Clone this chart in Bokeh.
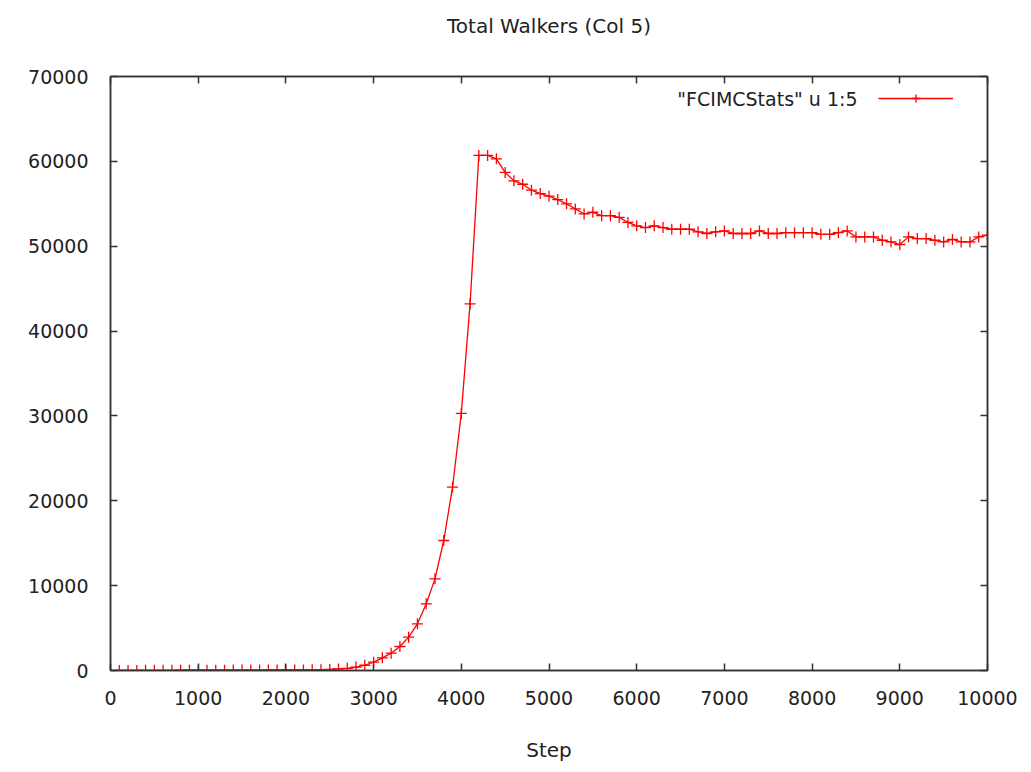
from bokeh.plotting import figure
from bokeh.models import (FixedTicker, LinearAxis, Range1d, Label, Legend, LegendItem,
                          NumeralTickFormatter)
from bokeh.embed import file_html
from bokeh.resources import INLINE

# ---- data ----
steps = [100, 200, 300, 400, 500, 600, 700, 800, 900, 1000,
         1100, 1200, 1300, 1400, 1500, 1600, 1700, 1800, 1900, 2000,
         2100, 2200, 2300, 2400, 2500, 2600, 2700, 2800, 2900, 3000,
         3100, 3200, 3300, 3400, 3500, 3600, 3700, 3800, 3900, 4000,
         4100, 4200, 4300, 4400, 4500, 4600, 4700, 4800, 4900, 5000,
         5100, 5200, 5300, 5400, 5500, 5600, 5700, 5800, 5900, 6000,
         6100, 6200, 6300, 6400, 6500, 6600, 6700, 6800, 6900, 7000,
         7100, 7200, 7300, 7400, 7500, 7600, 7700, 7800, 7900, 8000,
         8100, 8200, 8300, 8400, 8500, 8600, 8700, 8800, 8900, 9000,
         9100, 9200, 9300, 9400, 9500, 9600, 9700, 9800, 9900, 10000]
walkers = [10, 12, 14, 16, 19, 22, 25, 28, 31, 34,
           37, 40, 43, 46, 49, 52, 55, 58, 61, 64,
           67, 70, 75, 90, 130, 180, 260, 400, 620, 980,
           1490, 2040, 2830, 3930, 5500, 7860, 10800, 15320, 21600, 30300,
           43200, 60700, 60700, 60300, 58700, 57700, 57300, 56600, 56200, 55900,
           55500, 55000, 54400, 53800, 54000, 53600, 53600, 53400, 52800, 52400,
           52200, 52400, 52200, 52000, 52000, 52000, 51700, 51500, 51700, 51800,
           51500, 51500, 51500, 51800, 51500, 51500, 51600, 51600, 51600, 51600,
           51400, 51400, 51600, 51800, 51100, 51100, 51100, 50700, 50500, 50200,
           51100, 50900, 50900, 50700, 50500, 50800, 50500, 50500, 51100, 51300]
x_ticks = [0, 1000, 2000, 3000, 4000, 5000, 6000, 7000, 8000, 9000, 10000]
y_ticks = [0, 10000, 20000, 30000, 40000, 50000, 60000, 70000]
title_text = "Total Walkers (Col 5)"
x_label = "Step"
series_label = '"FCIMCStats" u 1:5'

FONT = "DejaVu Sans"
TXT = "#222222"
AX = "#333333"

p = figure(width=1031, height=772, output_backend="svg", toolbar_location=None,
           x_range=Range1d(0, 10000), y_range=Range1d(0, 70000),
           min_border_left=110, min_border_right=44, min_border_top=76, min_border_bottom=102,
           x_axis_location=None, y_axis_location=None)
p.frame_width = 877
p.frame_height = 594
p.grid.visible = False
p.outline_line_color = AX
p.outline_line_width = 1.5
p.background_fill_color = "white"
p.border_fill_color = "white"

def style_axis(ax, labels=True):
    ax.major_tick_in = 7
    ax.major_tick_out = 0
    ax.minor_tick_line_color = None
    ax.major_tick_line_color = AX
    ax.major_tick_line_width = 1.5
    ax.axis_line_color = AX
    ax.axis_line_width = 1.5
    ax.major_label_text_font = FONT
    ax.major_label_text_font_size = "19px"
    ax.major_label_text_color = TXT
    ax.formatter = NumeralTickFormatter(format="0")
    if not labels:
        ax.major_label_text_font_size = "0px"
        ax.major_label_text_alpha = 0
        ax.major_label_standoff = 0

xb = LinearAxis(ticker=FixedTicker(ticks=x_ticks))
style_axis(xb)
xb.major_label_standoff = 20
xb.axis_label = x_label
xb.axis_label_text_font = FONT
xb.axis_label_text_font_size = "20px"
xb.axis_label_text_font_style = "normal"
xb.axis_label_text_color = TXT
xb.axis_label_standoff = 30
p.add_layout(xb, "below")

yl = LinearAxis(ticker=FixedTicker(ticks=y_ticks))
style_axis(yl)
yl.major_label_standoff = 22
p.add_layout(yl, "left")

# mirrored top axis; its label carries the chart title
xt = LinearAxis(ticker=FixedTicker(ticks=x_ticks))
style_axis(xt, labels=False)
xt.axis_label = title_text
xt.axis_label_text_font = FONT
xt.axis_label_text_font_size = "20px"
xt.axis_label_text_font_style = "normal"
xt.axis_label_text_color = TXT
xt.axis_label_standoff = 39
p.add_layout(xt, "above")

yr = LinearAxis(ticker=FixedTicker(ticks=y_ticks))
style_axis(yr, labels=False)
p.add_layout(yr, "right")

ln = p.line(steps, walkers, line_color="#ff0000", line_width=1.3)
sc = p.scatter(steps, walkers, marker="cross", size=11, line_color="#ff0000", line_width=1.3)

leg = Legend(items=[LegendItem(label=" ", renderers=[ln, sc])],
             location=(768, 562), glyph_width=75, glyph_height=20,
             label_width=0, label_standoff=0, label_text_font_size="1px",
             padding=0, margin=0, spacing=0,
             border_line_alpha=0, background_fill_alpha=0)
p.add_layout(leg, "center")

lab = Label(x=747, y=572, x_units="screen", y_units="screen", text=series_label,
            text_align="right", text_baseline="middle", text_font=FONT,
            text_font_size="19px", text_color=TXT)
p.add_layout(lab)

open("out.html", "w").write(file_html(p, INLINE))
